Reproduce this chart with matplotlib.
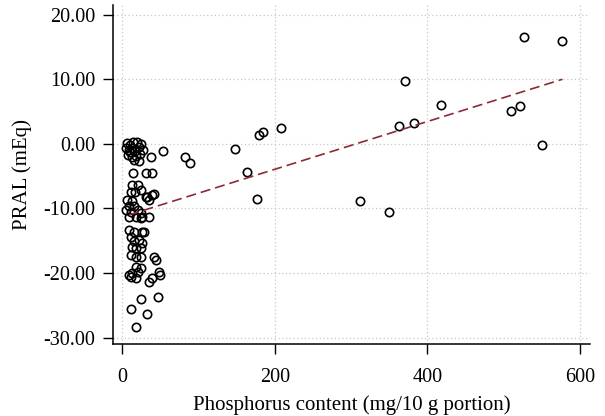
import numpy as np
import matplotlib
matplotlib.use("Agg")
import matplotlib.pyplot as plt

# Phosphorus content (mg/10 g portion) vs PRAL (mEq)
phos = [
    # high phosphorus foods
    526, 576, 370, 418, 363, 382, 510, 521, 550, 312, 350,
    # medium
    54, 82, 89, 148, 164, 176, 179, 184, 208,
    # top cluster around 0
    6, 10, 14, 19, 25, 5, 9, 13, 17, 22, 27, 7.5, 13, 18, 23, 15, 22, 10,
    38,
    # -4 .. -9
    14, 31, 39, 13, 20, 24, 11, 17, 31, 39, 35, 33, 42,
    # -9 .. -12
    6.6, 13, 9, 15, 4.5, 11, 20, 24, 9, 18, 26, 24, 35,
    # -13 .. -16
    9, 15, 26, 11, 15, 22, 26, 13, 18, 24, 28,
    # -17 .. -21
    11, 18, 24, 42, 44, 18, 24, 9, 13, 48, 50, 11, 18, 20, 35, 39,
    # lower outliers
    24, 47, 12, 32, 18,
]
pral = [
    16.6, 16.0, 9.8, 6.0, 2.7, 3.2, 5.1, 5.9, -0.2, -8.8, -10.6,
    -1.1, -2.1, -2.9, -0.8, -4.3, -8.5, 1.3, 1.9, 2.5,
    0.1, -0.2, 0.3, 0.3, 0.0, -0.6, -0.9, -0.6, -1.1, -0.5, -0.9, -1.7, -2.0, -1.9, -1.6, -2.5, -2.6, -1.3,
    -2.1,
    -4.5, -4.5, -4.5, -6.4, -6.4, -7.1, -7.4, -7.4, -8.2, -7.9, -8.7, -8.2, -7.8,
    -8.7, -8.9, -9.7, -9.7, -10.2, -10.5, -10.2, -10.7, -11.3, -11.3, -11.3, -11.5, -11.3,
    -13.3, -13.6, -13.6, -14.4, -15.1, -14.9, -15.4, -15.9, -16.2, -16.2, -13.7,
    -17.2, -17.6, -17.5, -17.5, -18.0, -19.0, -19.3, -20.3, -20.0, -19.8, -20.3, -20.6, -20.8, -19.8, -21.4, -20.7,
    -24.1, -23.7, -25.6, -26.4, -28.3,
]

# fitted line end points
fit_x = [9, 577]
fit_y = [-11.0, 10.0]

xticks = [0, 200, 400, 600]
yticks = [-30, -20, -10, 0, 10, 20]

plt.rcParams['font.family'] = ['Liberation Serif', 'DejaVu Serif']

fig = plt.figure(figsize=(6.05, 4.16), dpi=100)
ax = fig.add_axes([0.187, 0.173, 0.788, 0.815])

ax.grid(True, color='#c8c8c8', linestyle=(0, (1, 2)), linewidth=0.9)
ax.set_axisbelow(True)

ax.plot(phos, pral, 'o', ms=6, mfc='none', mec='black', mew=1.2, linestyle='none', zorder=3)
ax.plot(fit_x, fit_y, color='#8b2a35', linestyle=(0, (6, 3)), linewidth=1.2, zorder=4)

ax.set_xlim(-12, 613)
ax.set_ylim(-31, 21.5)
ax.set_xticks(xticks)
ax.set_yticks(yticks)
ax.set_yticklabels(["%.2f" % v for v in yticks])
ax.tick_params(direction='out', length=7, width=1, labelsize=14.5, colors='black')
ax.tick_params(axis='x', pad=10)
ax.tick_params(axis='y', pad=6)
for s in ['top', 'right']:
    ax.spines[s].set_visible(False)
for s in ['left', 'bottom']:
    ax.spines[s].set_linewidth(1.1)

ax.set_xlabel("Phosphorus content (mg/10 g portion)", fontsize=15, labelpad=6)
ax.set_ylabel("PRAL (mEq)", fontsize=15, labelpad=8)

fig.savefig("out.png", dpi=100)
